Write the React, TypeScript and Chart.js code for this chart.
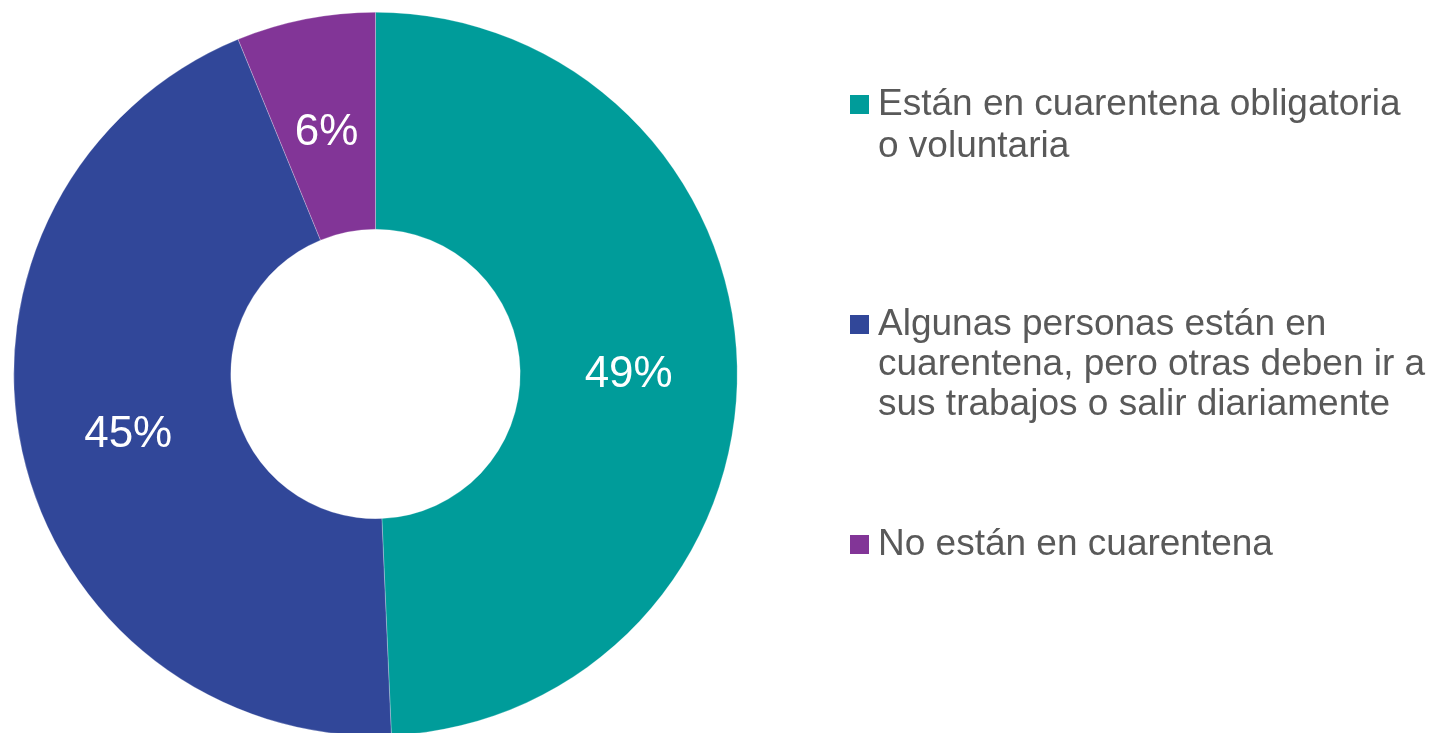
import React, { useEffect, useRef } from "react";
import { Chart, registerables } from "chart.js";

Chart.register(...registerables);

const categories: string[][] = [
  ["Están en cuarentena obligatoria", "o voluntaria"],
  ["Algunas personas están en", "cuarentena, pero otras deben ir a", "sus trabajos o salir diariamente"],
  ["No están en cuarentena"],
];
const values: number[] = [49.3, 44.5, 6.2];
const valueLabels: string[] = ["49%", "45%", "6%"];
const colors: string[] = ["#009C9A", "#314799", "#823597"];

const legendTops: number[] = [82, 303, 523];
const legendLineHeights: number[] = [42, 40, 40];

const FONT = "'Liberation Sans', Arial, Helvetica, sans-serif";

const labelPlugin = {
  id: "sliceLabels",
  afterDatasetsDraw(chart: any) {
    const ctx = chart.ctx;
    const meta = chart.getDatasetMeta(0);
    ctx.save();
    ctx.fillStyle = "#FFFFFF";
    ctx.font = `44px ${FONT}`;
    ctx.textAlign = "center";
    ctx.textBaseline = "alphabetic";
    meta.data.forEach((arc: any, i: number) => {
      const p = arc.tooltipPosition();
      ctx.fillText(valueLabels[i], p.x, p.y + 19);
    });
    ctx.restore();
  },
};

export default function App() {
  const ref = useRef<HTMLCanvasElement | null>(null);
  useEffect(() => {
    if (!ref.current) return;
    const chart = new Chart(ref.current, {
      type: "doughnut",
      data: {
        labels: categories.map((c) => c.join(" ")),
        datasets: [
          {
            data: values,
            backgroundColor: colors,
            borderWidth: 0.5,
            borderColor: "rgba(255,255,255,0.5)",
          },
        ],
      },
      options: {
        animation: false,
        responsive: true,
        maintainAspectRatio: false,
        cutout: "40%",
        layout: { padding: { left: 13.5, right: 697.5, top: 12, bottom: 24 } },
        plugins: {
          legend: { display: false },
          tooltip: { enabled: false },
        },
      },
      plugins: [labelPlugin],
    });
    return () => chart.destroy();
  }, []);

  return (
    <div
      style={{
        position: "fixed",
        left: 0,
        top: 0,
        width: 1435,
        height: 733,
        overflow: "hidden",
        background: "#FFFFFF",
      }}
    >
      <div style={{ position: "absolute", left: 0, top: 0, width: 1435, height: 760 }}>
        <canvas ref={ref} />
      </div>
      {categories.map((lines, i) => (
        <div
          key={i}
          style={{
            position: "absolute",
            left: 850,
            top: legendTops[i],
            display: "flex",
            alignItems: "flex-start",
            fontFamily: FONT,
            fontSize: 37,
            lineHeight: `${legendLineHeights[i]}px`,
            color: "#595959",
            whiteSpace: "nowrap",
          }}
        >
          <span
            style={{
              display: "inline-block",
              flex: "0 0 auto",
              width: 19,
              height: 19,
              marginTop: 12 + (legendLineHeights[i] - 40) / 2,
              marginRight: 9,
              background: colors[i],
            }}
          />
          <div>
            {lines.map((l, j) => (
              <div key={j}>{l}</div>
            ))}
          </div>
        </div>
      ))}
    </div>
  );
}
